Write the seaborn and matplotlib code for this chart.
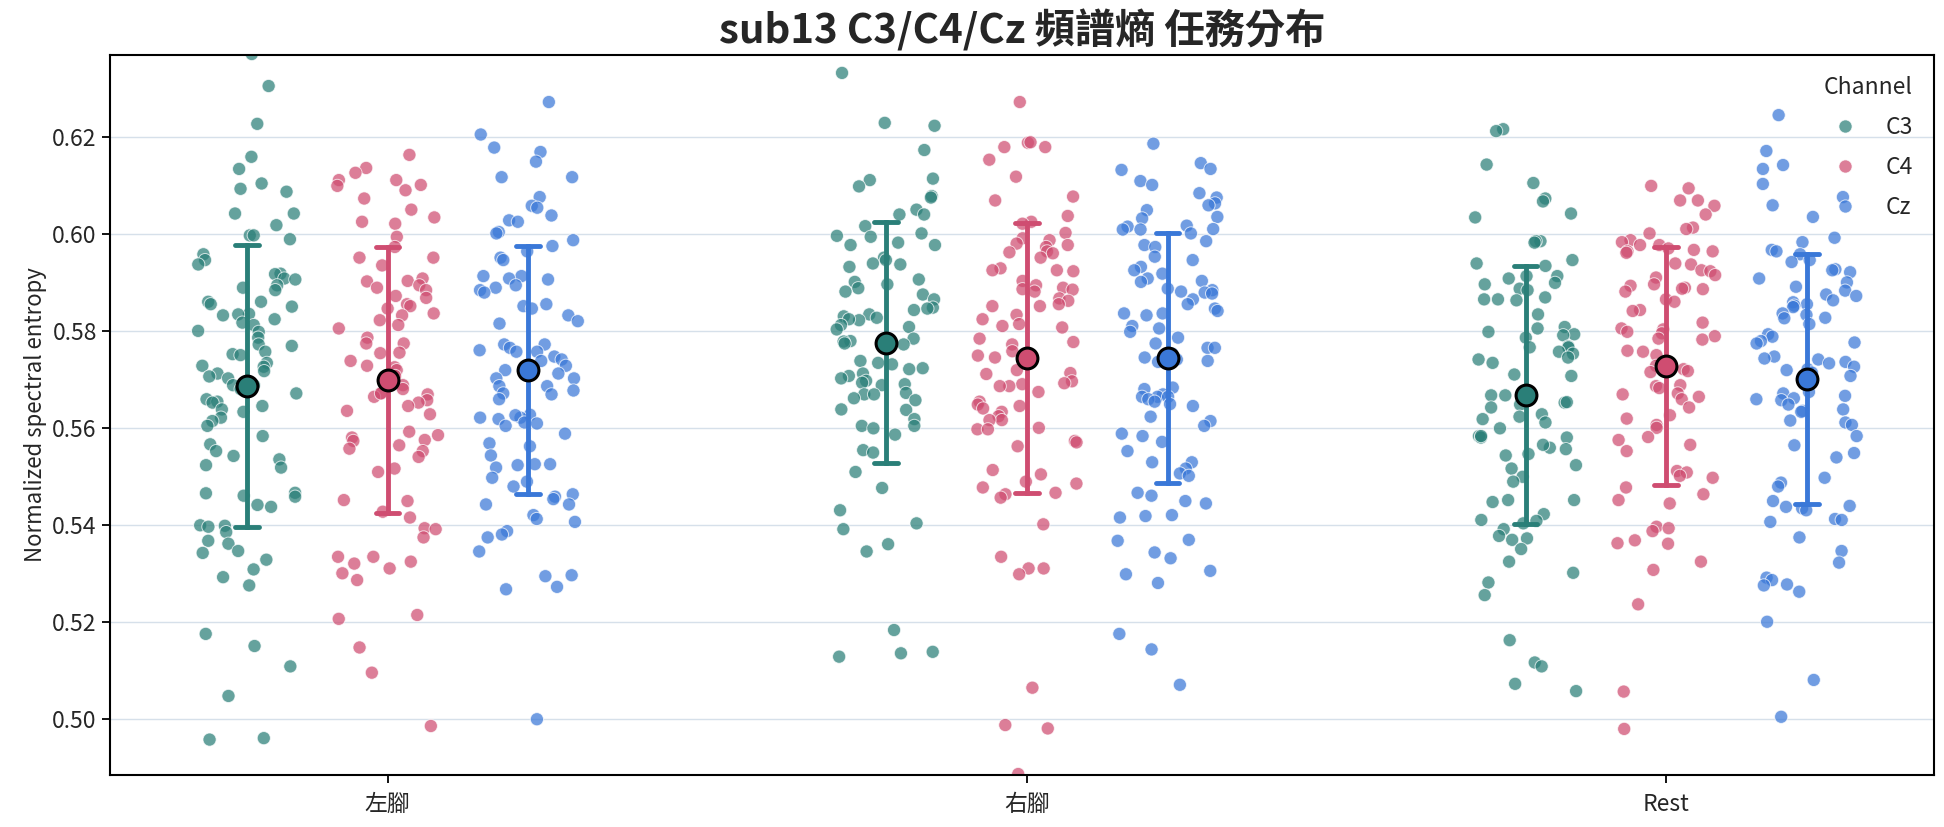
import numpy as np
import pandas as pd
import matplotlib
matplotlib.use("Agg")
import matplotlib.pyplot as plt
import seaborn as sns

##################################################################
# data
##################################################################
tasks = ["左腳", "右腳", "Rest"]
channels = ["C3", "C4", "Cz"]
colors = {"C3": "#2a7f78", "C4": "#cf4d71", "Cz": "#3a78d8"}

left_c3 = [0.6372, 0.6306, 0.6228, 0.6160, 0.6135, 0.6105, 0.6094, 0.6088, 0.6043, 0.6043, 0.6019, 0.5998, 0.5998,
           0.5990, 0.5959, 0.5947, 0.5938, 0.5919, 0.5918, 0.5909, 0.5907, 0.5895, 0.5890, 0.5885, 0.5861, 0.5861,
           0.5856, 0.5851, 0.5836, 0.5835, 0.5833, 0.5825, 0.5818, 0.5813, 0.5801, 0.5799, 0.5787, 0.5773, 0.5770,
           0.5758, 0.5753, 0.5751, 0.5735, 0.5729, 0.5727, 0.5718, 0.5713, 0.5707, 0.5703, 0.5689, 0.5689, 0.5681,
           0.5672, 0.5660, 0.5655, 0.5653, 0.5646, 0.5639, 0.5634, 0.5622, 0.5615, 0.5605, 0.5584, 0.5567, 0.5553,
           0.5543, 0.5536, 0.5524, 0.5519, 0.5466, 0.5467, 0.5461, 0.5459, 0.5442, 0.5438, 0.5400, 0.5399, 0.5397,
           0.5386, 0.5368, 0.5362, 0.5347, 0.5343, 0.5329, 0.5309, 0.5293, 0.5276, 0.5176, 0.5151, 0.5109, 0.5048,
           0.4961, 0.4958]
left_c4 = [0.6164, 0.6137, 0.6127, 0.6112, 0.6112, 0.6102, 0.6100, 0.6091, 0.6074, 0.6051, 0.6035, 0.6026, 0.6022,
           0.5995, 0.5974, 0.5952, 0.5952, 0.5936, 0.5909, 0.5904, 0.5903, 0.5895, 0.5890, 0.5885, 0.5873, 0.5869,
           0.5856, 0.5852, 0.5847, 0.5837, 0.5833, 0.5823, 0.5813, 0.5806, 0.5787, 0.5775, 0.5775, 0.5756, 0.5755,
           0.5739, 0.5729, 0.5726, 0.5720, 0.5708, 0.5689, 0.5681, 0.5672, 0.5670, 0.5665, 0.5672, 0.5658, 0.5653,
           0.5646, 0.5636, 0.5629, 0.5593, 0.5586, 0.5581, 0.5576, 0.5574, 0.5565, 0.5558, 0.5553, 0.5541, 0.5517,
           0.5510, 0.5452, 0.5450, 0.5428, 0.5416, 0.5394, 0.5392, 0.5375, 0.5335, 0.5335, 0.5325, 0.5321, 0.5311,
           0.5301, 0.5287, 0.5207, 0.5215, 0.5148, 0.5096, 0.4986]
left_cz = [0.6273, 0.6206, 0.6179, 0.6170, 0.6150, 0.6118, 0.6118, 0.6077, 0.6059, 0.6055, 0.6039, 0.6029, 0.6026,
           0.6005, 0.6002, 0.5988, 0.5976, 0.5965, 0.5952, 0.5947, 0.5914, 0.5914, 0.5909, 0.5907, 0.5895, 0.5890,
           0.5885, 0.5880, 0.5856, 0.5852, 0.5847, 0.5833, 0.5821, 0.5816, 0.5773, 0.5773, 0.5761, 0.5748, 0.5766,
           0.5758, 0.5758, 0.5742, 0.5739, 0.5729, 0.5720, 0.5713, 0.5703, 0.5703, 0.5687, 0.5687, 0.5678, 0.5670,
           0.5672, 0.5660, 0.5628, 0.5622, 0.5619, 0.5622, 0.5627, 0.5612, 0.5605, 0.5610, 0.5589, 0.5569, 0.5563,
           0.5544, 0.5526, 0.5524, 0.5526, 0.5519, 0.5498, 0.5490, 0.5480, 0.5464, 0.5459, 0.5454, 0.5443, 0.5443,
           0.5421, 0.5413, 0.5407, 0.5388, 0.5381, 0.5375, 0.5346, 0.5297, 0.5295, 0.5273, 0.5268, 0.5000]
right_c3 = [0.6333, 0.6230, 0.6224, 0.6174, 0.6112, 0.6115, 0.6099, 0.6079, 0.6076, 0.6051, 0.6041, 0.6041, 0.6017,
            0.6002, 0.5983, 0.5997, 0.5995, 0.5978, 0.5978, 0.5952, 0.5947, 0.5938, 0.5940, 0.5933, 0.5907, 0.5902,
            0.5897, 0.5889, 0.5882, 0.5876, 0.5866, 0.5849, 0.5847, 0.5844, 0.5835, 0.5831, 0.5828, 0.5823, 0.5825,
            0.5813, 0.5809, 0.5804, 0.5785, 0.5780, 0.5779, 0.5775, 0.5773, 0.5739, 0.5735, 0.5732, 0.5724, 0.5722,
            0.5713, 0.5708, 0.5703, 0.5698, 0.5694, 0.5689, 0.5691, 0.5673, 0.5670, 0.5670, 0.5662, 0.5658, 0.5639,
            0.5638, 0.5619, 0.5605, 0.5605, 0.5600, 0.5587, 0.5555, 0.5550, 0.5510, 0.5477, 0.5431, 0.5404, 0.5392,
            0.5361, 0.5346, 0.5184, 0.5139, 0.5136, 0.5129]
right_c4 = [0.6273, 0.6189, 0.6190, 0.6180, 0.6180, 0.6154, 0.6119, 0.6078, 0.6070, 0.6038, 0.6026, 0.6022, 0.6003,
            0.5992, 0.5988, 0.5981, 0.5978, 0.5974, 0.5965, 0.5963, 0.5961, 0.5952, 0.5930, 0.5926, 0.5926, 0.5924,
            0.5904, 0.5895, 0.5890, 0.5887, 0.5886, 0.5882, 0.5868, 0.5863, 0.5856, 0.5852, 0.5852, 0.5834, 0.5825,
            0.5815, 0.5811, 0.5808, 0.5785, 0.5778, 0.5773, 0.5759, 0.5750, 0.5746, 0.5720, 0.5714, 0.5712, 0.5697,
            0.5693, 0.5691, 0.5687, 0.5687, 0.5675, 0.5655, 0.5649, 0.5646, 0.5641, 0.5634, 0.5625, 0.5617, 0.5617,
            0.5598, 0.5598, 0.5601, 0.5574, 0.5571, 0.5563, 0.5514, 0.5505, 0.5490, 0.5486, 0.5478, 0.5467, 0.5464,
            0.5457, 0.5402, 0.5335, 0.5311, 0.5311, 0.5299, 0.5065, 0.4988, 0.4981, 0.4887]
right_cz = [0.6187, 0.6147, 0.6135, 0.6133, 0.6110, 0.6102, 0.6085, 0.6076, 0.6064, 0.6060, 0.6050, 0.6036, 0.6033,
            0.6016, 0.6011, 0.6010, 0.6018, 0.6010, 0.6002, 0.5986, 0.5978, 0.5974, 0.5954, 0.5947, 0.5933, 0.5926,
            0.5919, 0.5909, 0.5904, 0.5902, 0.5888, 0.5885, 0.5882, 0.5880, 0.5878, 0.5866, 0.5856, 0.5847, 0.5842,
            0.5837, 0.5837, 0.5833, 0.5811, 0.5806, 0.5799, 0.5787, 0.5775, 0.5766, 0.5766, 0.5754, 0.5746, 0.5742,
            0.5739, 0.5737, 0.5684, 0.5681, 0.5670, 0.5665, 0.5665, 0.5665, 0.5660, 0.5655, 0.5650, 0.5646, 0.5624,
            0.5615, 0.5605, 0.5589, 0.5584, 0.5572, 0.5553, 0.5530, 0.5530, 0.5517, 0.5507, 0.5502, 0.5467, 0.5461,
            0.5450, 0.5445, 0.5421, 0.5419, 0.5416, 0.5370, 0.5368, 0.5344, 0.5332, 0.5306, 0.5299, 0.5281, 0.5176,
            0.5144, 0.5071]
rest_c3 = [0.6217, 0.6213, 0.6144, 0.6106, 0.6074, 0.6068, 0.6043, 0.6035, 0.5986, 0.5986, 0.5983, 0.5947, 0.5940,
           0.5935, 0.5914, 0.5914, 0.5909, 0.5900, 0.5897, 0.5888, 0.5885, 0.5870, 0.5866, 0.5866, 0.5864, 0.5835,
           0.5809, 0.5806, 0.5799, 0.5794, 0.5792, 0.5787, 0.5769, 0.5767, 0.5767, 0.5758, 0.5754, 0.5746, 0.5742,
           0.5735, 0.5711, 0.5708, 0.5668, 0.5668, 0.5653, 0.5649, 0.5654, 0.5643, 0.5629, 0.5624, 0.5619, 0.5612,
           0.5600, 0.5584, 0.5581, 0.5584, 0.5581, 0.5560, 0.5557, 0.5566, 0.5547, 0.5544, 0.5524, 0.5517, 0.5500,
           0.5490, 0.5452, 0.5448, 0.5452, 0.5423, 0.5411, 0.5409, 0.5404, 0.5392, 0.5378, 0.5373, 0.5370, 0.5351,
           0.5325, 0.5302, 0.5282, 0.5256, 0.5163, 0.5117, 0.5109, 0.5073, 0.5058]
rest_c4 = [0.6100, 0.6095, 0.6070, 0.6070, 0.6059, 0.6041, 0.6014, 0.6011, 0.6002, 0.5988, 0.5984, 0.5978, 0.5978,
           0.5971, 0.5968, 0.5965, 0.5965, 0.5962, 0.5940, 0.5938, 0.5926, 0.5924, 0.5916, 0.5911, 0.5897, 0.5894,
           0.5890, 0.5888, 0.5887, 0.5882, 0.5866, 0.5861, 0.5844, 0.5842, 0.5818, 0.5806, 0.5804, 0.5799, 0.5796,
           0.5790, 0.5785, 0.5783, 0.5760, 0.5758, 0.5751, 0.5729, 0.5722, 0.5716, 0.5718, 0.5689, 0.5687, 0.5683,
           0.5672, 0.5670, 0.5665, 0.5660, 0.5643, 0.5627, 0.5620, 0.5607, 0.5601, 0.5582, 0.5576, 0.5566, 0.5553,
           0.5512, 0.5509, 0.5502, 0.5498, 0.5478, 0.5464, 0.5452, 0.5445, 0.5397, 0.5394, 0.5388, 0.5369, 0.5363,
           0.5362, 0.5325, 0.5308, 0.5237, 0.5057, 0.4980]
rest_cz = [0.6246, 0.6172, 0.6143, 0.6135, 0.6104, 0.6077, 0.6060, 0.6036, 0.5993, 0.5984, 0.5968, 0.5965, 0.5959,
           0.5947, 0.5943, 0.5928, 0.5926, 0.5922, 0.5909, 0.5901, 0.5892, 0.5884, 0.5876, 0.5873, 0.5864, 0.5860,
           0.5856, 0.5853, 0.5850, 0.5837, 0.5834, 0.5828, 0.5827, 0.5815, 0.5794, 0.5789, 0.5780, 0.5777, 0.5775,
           0.5748, 0.5742, 0.5744, 0.5737, 0.5734, 0.5727, 0.5722, 0.5720, 0.5715, 0.5708, 0.5675, 0.5672, 0.5667,
           0.5662, 0.5660, 0.5658, 0.5649, 0.5639, 0.5636, 0.5634, 0.5616, 0.5612, 0.5607, 0.5584, 0.5565, 0.5549,
           0.5540, 0.5498, 0.5488, 0.5480, 0.5450, 0.5440, 0.5438, 0.5435, 0.5431, 0.5413, 0.5411, 0.5407, 0.5375,
           0.5347, 0.5323, 0.5292, 0.5287, 0.5278, 0.5276, 0.5263, 0.5201, 0.5081, 0.5005]

values = {
    ("左腳", "C3"): left_c3, ("左腳", "C4"): left_c4, ("左腳", "Cz"): left_cz,
    ("右腳", "C3"): right_c3, ("右腳", "C4"): right_c4, ("右腳", "Cz"): right_cz,
    ("Rest", "C3"): rest_c3, ("Rest", "C4"): rest_c4, ("Rest", "Cz"): rest_cz,
}

##################################################################
# long table, channel groups spread around each task position
##################################################################
offset = 0.22
rows = []
for t, task in enumerate(tasks):
    for c, ch in enumerate(channels):
        for v in values[(task, ch)]:
            rows.append({"Task": task, "Channel": ch, "pos": round(t + (c - 1) * offset, 3), "entropy": v})
df = pd.DataFrame(rows)

##################################################################
# figure
##################################################################
sns.set_theme(style="ticks")
plt.rcParams["font.family"] = ["Noto Sans CJK TC", "DejaVu Sans"]
plt.rcParams["axes.unicode_minus"] = False

fig, ax = plt.subplots(figsize=(19.44, 8.27), dpi=100)
np.random.seed(0)

sns.stripplot(data=df, x="pos", y="entropy", hue="Channel", hue_order=channels, palette=colors,
              native_scale=True, jitter=0.36, size=9.5, alpha=0.72, edgecolor="white", linewidth=0.7,
              zorder=2, ax=ax)
sns.pointplot(data=df, x="pos", y="entropy", hue="Channel", hue_order=channels, palette=colors,
              native_scale=True, errorbar="sd", capsize=0.17, linestyles="none", markers="o",
              markersize=15, markeredgecolor="black", markeredgewidth=2.2,
              err_kws={"linewidth": 3.5, "zorder": 3}, zorder=4, legend=False, ax=ax)

ax.set_xlim(-0.434, 2.419)
ax.set_ylim(0.4885, 0.637)
ax.set_xticks(range(len(tasks)))
ax.set_xticklabels(tasks)
ax.set_yticks(np.arange(0.50, 0.621, 0.02))
ax.set_yticklabels(["%.2f" % v for v in np.arange(0.50, 0.621, 0.02)])
ax.tick_params(axis="both", labelsize=16.5, length=6, width=1.3, color="black")
ax.tick_params(axis="x", pad=7)
ax.grid(axis="y", color="#d6e0ea", linewidth=1)
ax.set_axisbelow(True)
for sp in ax.spines.values():
    sp.set_linewidth(1.5)
    sp.set_color("black")

ax.set_xlabel("")
ax.set_ylabel("Normalized spectral entropy", fontsize=16)
ax.set_title("sub13 C3/C4/Cz 頻譜熵 任務分布", fontsize=29, fontweight="bold", pad=8)

sns.move_legend(ax, "upper right", frameon=False, title="Channel", fontsize=16.5, title_fontsize=16.5,
                labelspacing=0.75, markerscale=1.0)

fig.subplots_adjust(left=0.0566, right=0.9949, top=0.9335, bottom=0.0629)
fig.savefig("out.png", dpi=100)
